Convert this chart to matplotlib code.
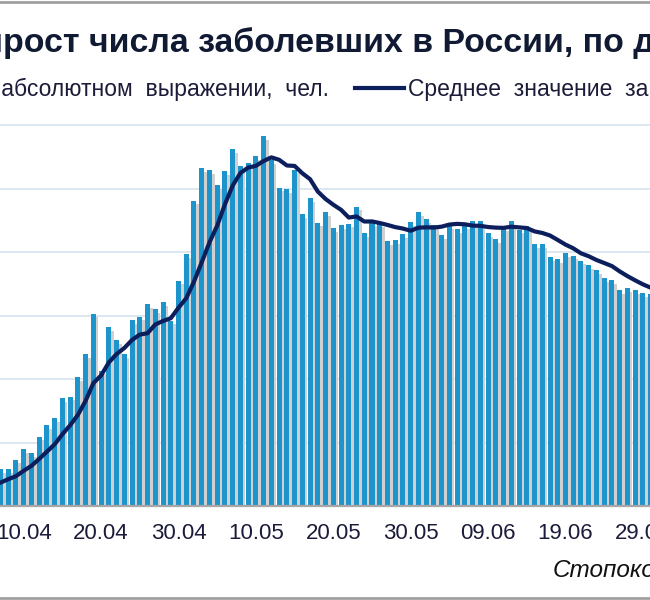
import numpy as np
import pandas as pd
import matplotlib
matplotlib.use('Agg')
import matplotlib.pyplot as plt
from matplotlib.lines import Line2D

# daily new cases, 31.03 .. 01.07
new_cases = [501,
             440, 771, 601, 582, 658, 954, 1154, 1175, 1459, 1786,
             1667, 2186, 2558, 2774, 3388, 3448, 4070, 4785, 6060, 4268,
             5642, 5236, 4774, 5849, 5966, 6361, 6198, 6411, 5841, 7099,
             7933, 9623, 10633, 10581, 10102, 10559, 11231, 10699, 10817, 11012,
             11656, 10899, 10028, 9974, 10598, 9200, 9709, 8926, 9263, 8764,
             8849, 8894, 9434, 8599, 8946, 8915, 8338, 8371, 8572, 8952, 9268,
             9035, 8863, 8536, 8831, 8726, 8855, 8984, 8985, 8595, 8404,
             8779, 8987, 8706, 8835, 8246, 8248, 7843, 7790, 7972, 7889,
             7728, 7600, 7425, 7176, 7113, 6800, 6852, 6791, 6719, 6693,
             6556]
first_day = '2020-03-31'
tick_labels = ['10.04', '20.04', '30.04', '10.05', '20.05', '30.05', '09.06', '19.06', '29.06']

title = 'Прирост числа заболевших в России, по дням'
title_visible = 'рост числа заболевших в России, по дням'
leg_bars = 'Прирост  в  абсолютном  выражении,  чел.'
leg_bars_visible = 'абсолютном  выражении,  чел.'
leg_line = 'Среднее  значение  за  7  дней'
source = 'Стопокоронавирус.рф'

dates = pd.date_range(first_day, periods=len(new_cases))
x = np.arange(len(dates)) - 10          # 0 = 10.04
avg7 = pd.Series(new_cases).rolling(7).mean()

blue = '#1e94cc'
navy = '#0c1f5c'
txt = '#1b1b3a'

W, H = 650, 600
fig = plt.figure(figsize=(6.5, 6), dpi=100)
ax = fig.add_axes([0, 94 / H, 1, 400 / H])

ax.bar(x + 0.33, np.array(new_cases) - 120, width=0.65, color='#d0d0d0', zorder=1)
ax.bar(x, new_cases, width=0.65, color=blue, zorder=2)
ax.plot(x[6:], avg7[6:], color=navy, lw=3, zorder=3, solid_capstyle='round')

ax.set_xlim(-23.7 / 7.74, (W - 23.7) / 7.74)
ax.set_ylim(0, 12600)
ax.set_yticks(range(2000, 12001, 2000))
ax.yaxis.grid(True, color='#dae5f1', lw=1.3, zorder=0)
ax.set_axisbelow(True)
ax.tick_params(axis='y', left=False, labelleft=False)
ax.set_xticks(range(0, 81, 10))
ax.set_xticklabels(tick_labels, fontsize=16, color=txt, family='Liberation Sans')
ax.tick_params(axis='x', length=0, pad=12)
for s in ['top', 'left', 'right']:
    ax.spines[s].set_visible(False)
ax.spines['bottom'].set_color('#a6a6a6')
ax.spines['bottom'].set_linewidth(1.6)
ax.spines['bottom'].set_zorder(4)

r = fig.canvas.get_renderer()


def place_cut(full, visible, x_px, y_px, **kw):
    t1 = fig.text(0, 0, full, **kw)
    t2 = fig.text(0, 0, visible, **kw)
    wf = t1.get_window_extent(r).width
    wv = t2.get_window_extent(r).width
    t2.remove()
    t1.set_position(((x_px + wv - wf) / W, 1 - y_px / H))
    t1.set_va('baseline')


place_cut(title, title_visible, 3, 52, fontsize=24.4, fontweight='bold',
          color='#111a33', family='Liberation Sans')
place_cut(leg_bars, leg_bars_visible, 1, 96, fontsize=16.5,
          color=txt, family='Liberation Sans')

fig.add_artist(Line2D([355 / W, 404 / W], [1 - 88 / H, 1 - 88 / H],
                      transform=fig.transFigure, color=navy, lw=3))
fig.text(408 / W, 1 - 96 / H, leg_line, fontsize=16.5, color=txt,
         family='Liberation Sans', va='baseline')

fig.text(553 / W, 1 - 577 / H, source, fontsize=17.5, style='italic',
         color='#111111', family='Liberation Sans', va='baseline')

for yy in [1.5, 597.5]:
    fig.add_artist(Line2D([0, 1], [1 - yy / H, 1 - yy / H],
                          transform=fig.transFigure, color='#a0a0a0', lw=2))

fig.savefig('out.png', dpi=100)
